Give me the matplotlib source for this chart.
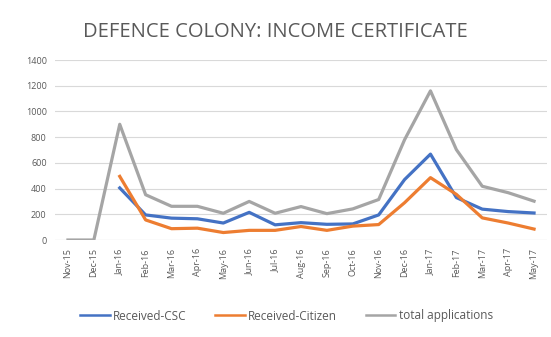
import matplotlib
matplotlib.use("Agg")
import matplotlib.pyplot as plt
import numpy as np

months = ["Nov-15", "Dec-15", "Jan-16", "Feb-16", "Mar-16", "Apr-16", "May-16",
          "Jun-16", "Jul-16", "Aug-16", "Sep-16", "Oct-16", "Nov-16", "Dec-16",
          "Jan-17", "Feb-17", "Mar-17", "Apr-17", "May-17"]

received_csc = [None, None, 405, 195, 170, 165, 132, 215, 118, 135, 122, 125,
                195, 470, 668, 330, 240, 221, 210]
received_citizen = [None, None, 495, 156, 88, 92, 58, 75, 75, 105, 75, 108,
                    120, 290, 485, 355, 172, 132, 85]
total_applications = [0, 0, 900, 352, 262, 262, 208, 300, 208, 260, 205, 242,
                      315, 780, 1160, 703, 418, 368, 302]

y_ticks = [0, 200, 400, 600, 800, 1000, 1200, 1400]


def as_array(vals):
    return np.array([np.nan if v is None else v for v in vals], dtype=float)


plt.rcParams["font.family"] = ["Open Sans", "DejaVu Sans"]

fig = plt.figure(figsize=(5.51, 3.37), dpi=100)
ax = fig.add_axes([55 / 551, 1 - 240 / 337, 492 / 551, 180 / 337])

x = np.arange(len(months))
ax.plot(x, as_array(received_csc), color="#4472C4", lw=2.3, label="Received-CSC",
        solid_joinstyle="round")
ax.plot(x, as_array(received_citizen), color="#ED7D31", lw=2.3, label="Received-Citizen",
        solid_joinstyle="round")
ax.plot(x, as_array(total_applications), color="#A5A5A5", lw=2.3, label="total applications",
        solid_joinstyle="round")

ax.set_xlim(-0.5, len(months) - 0.5)
ax.set_ylim(0, 1400)
ax.set_yticks(y_ticks)
ax.set_yticklabels([str(t) for t in y_ticks], fontsize=6.5, color="#595959")
ax.set_xticks(x)
ax.set_xticklabels(months, rotation=90, fontsize=6.5, color="#595959")
ax.tick_params(axis="both", length=0, pad=6)
ax.grid(axis="y", color="#D9D9D9", lw=0.8)
ax.set_axisbelow(True)
for s in ax.spines.values():
    s.set_visible(False)
ax.axhline(0, color="#D9D9D9", lw=0.8, zorder=0)

fig.text(0.5, 1 - 32 / 337, "DEFENCE COLONY: INCOME CERTIFICATE", ha="center", va="center",
         fontsize=14.5, color="#595959")

leg = fig.legend(loc="center", bbox_to_anchor=(0.52, 1 - 316 / 337), ncol=3, frameon=False,
                 fontsize=8.5, labelcolor="#595959", handlelength=2.5, handletextpad=0.3,
                 columnspacing=2.4)
for h in leg.get_lines():
    h.set_linewidth(1.8)

fig.savefig("out.png", dpi=100, facecolor="white")
